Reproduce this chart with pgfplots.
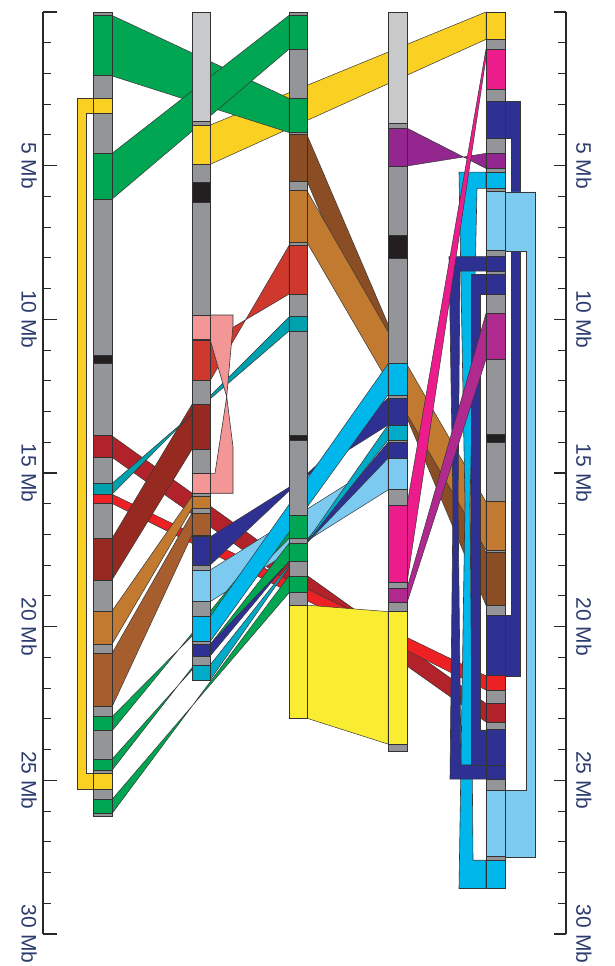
\documentclass[border=0pt]{standalone}
\usepackage{pgfplots}
\pgfplotsset{compat=1.18}
\usepackage{fontspec}
\setmainfont{Liberation Sans}
\definecolor{gry}{RGB}{147,149,152}
\definecolor{lgry}{RGB}{200,201,203}
\definecolor{blk}{RGB}{35,31,32}
\definecolor{grn}{RGB}{0,166,81}
\definecolor{gold}{RGB}{250,208,35}
\definecolor{lemon}{RGB}{249,236,49}
\definecolor{dbrown}{RGB}{139,78,36}
\definecolor{obrown}{RGB}{193,122,48}
\definecolor{mbrown}{RGB}{166,94,46}
\definecolor{redA}{RGB}{206,56,45}
\definecolor{bred}{RGB}{237,32,36}
\definecolor{fbrick}{RGB}{178,34,42}
\definecolor{dbrick}{RGB}{150,42,33}
\definecolor{salm}{RGB}{242,150,150}
\definecolor{tealA}{RGB}{0,161,175}
\definecolor{tealB}{RGB}{0,171,200}
\definecolor{cyanA}{RGB}{0,183,235}
\definecolor{navyA}{RGB}{46,49,146}
\definecolor{lblue}{RGB}{124,202,240}
\definecolor{mag}{RGB}{236,28,140}
\definecolor{purpA}{RGB}{147,39,143}
\definecolor{purpB}{RGB}{176,41,143}
\definecolor{edgec}{RGB}{50,50,50}
\definecolor{linkc}{RGB}{55,55,55}
\definecolor{axc}{RGB}{40,40,40}
\definecolor{labc}{RGB}{45,60,110}
% chromosome segment: xl, xr, y1, y2, colour
\newcommand{\seg}[5]{\addplot[fill=#5,draw=edgec,line width=0.9pt] coordinates {(#1,#3) (#2,#3) (#2,#4) (#1,#4)} --cycle;}
\newcommand{\chA}[3]{\seg{93}{112}{#1}{#2}{#3}}
\newcommand{\chB}[3]{\seg{192}{210}{#1}{#2}{#3}}
\newcommand{\chC}[3]{\seg{289}{307}{#1}{#2}{#3}}
\newcommand{\chD}[3]{\seg{388}{407}{#1}{#2}{#3}}
\newcommand{\chE}[3]{\seg{486}{505}{#1}{#2}{#3}}
% link: x1, top1, bot1, x2, top2, bot2, colour (top2/bot2 swapped = inverted)
\newcommand{\lnk}[7]{\addplot[fill=#7,draw=linkc,line width=0.5pt] coordinates {(#1,#2) (#4,#5) (#4,#6) (#1,#3)} --cycle;}
\newcommand{\shp}[2]{\addplot[fill=#1,draw=linkc,line width=0.6pt] coordinates {#2} --cycle;}
\begin{document}
\begin{tikzpicture}
\useasboundingbox (0,0) rectangle (615pt,-966pt);
\begin{axis}[
  at={(43pt,-12pt)}, anchor=north west,
  scale only axis, width=523pt, height=922pt,
  xmin=43, xmax=566, ymin=0, ymax=30, y dir=reverse,
  clip=false,
  axis x line=none, xtick=\empty,
  axis y line*=left, ytick pos=left, yticklabel pos=left,
  ytick={0,5,10,15,20,25,30},
  minor ytick={1,2,3,4,6,7,8,9,11,12,13,14,16,17,18,19,21,22,23,24,26,27,28,29},
  yticklabels={,5 Mb,10 Mb,15 Mb,20 Mb,25 Mb,30 Mb},
  tick align=inside,
  major tick length=14pt, minor tick length=7.5pt,
  every tick/.style={draw=axc, line width=1.1pt},
  axis line style={draw=axc, line width=1.1pt},
  yticklabel style={rotate=-90, anchor=north, inner sep=0pt, font=\fontsize{21}{25}\selectfont, text=labc},
  yticklabel shift=6pt,
]
% ---- links ----
\lnk{210}{3.68}{4.96}{486}{0}{0.89}{gold}
\lnk{112}{0.11}{2.08}{289}{2.81}{3.92}{grn}
\lnk{112}{4.60}{6.09}{289}{0.11}{1.21}{grn}
\lnk{407}{3.78}{5.01}{486}{5.09}{4.60}{purpA}
\lnk{307}{4.00}{5.50}{486}{17.60}{19.30}{dbrown}
\lnk{307}{5.82}{7.50}{486}{15.94}{17.51}{obrown}
\lnk{289}{7.60}{9.18}{210}{12.00}{10.70}{redA}
\lnk{112}{13.79}{14.49}{486}{22.50}{23.10}{fbrick}
\lnk{112}{15.69}{15.99}{486}{21.60}{22.06}{bred}
\lnk{112}{17.13}{18.48}{192}{12.77}{14.23}{dbrick}
\lnk{289}{9.92}{10.38}{112}{15.69}{15.34}{tealA}
\lnk{112}{19.49}{20.57}{192}{15.75}{16.15}{obrown}
\lnk{112}{20.87}{22.61}{192}{16.30}{17.02}{mbrown}
\lnk{388}{14.52}{15.55}{210}{18.16}{19.19}{lblue}
\lnk{112}{22.93}{23.39}{289}{17.13}{16.37}{grn}
\lnk{112}{24.31}{24.67}{289}{17.89}{17.29}{grn}
\lnk{112}{25.62}{26.08}{289}{18.90}{18.35}{grn}
\lnk{388}{12.56}{13.44}{210}{18.00}{17.08}{navyA}
\lnk{388}{11.45}{12.46}{210}{19.68}{20.49}{cyanA}
\lnk{388}{14.00}{14.52}{210}{20.96}{20.57}{navyA}
\lnk{388}{13.44}{13.93}{210}{21.74}{21.25}{tealB}
\lnk{307}{19.30}{22.98}{388}{19.51}{23.82}{lemon}
% inverted self link on chr2
\shp{salm}{(210,9.86) (233,9.86) (233,10.19) (226.7,12.52) (210,10.65)}
\shp{salm}{(226.7,12.52) (233,14.15) (233,15.66) (210,15.66) (210,15.01) (215,15.01)}
% chr1 self link
\shp{gold}{(93,2.82) (77,2.82) (77,25.29) (93,25.29) (93,24.77) (86.7,24.77) (86.7,3.30) (93,3.30)}
% chr5 self links
\shp{cyanA}{(486,5.21) (459,5.21) (465,16) (459,28.52) (486,28.52) (486,27.60) (473,27.60) (470,16) (477,5.74) (486,5.74)}
\shp{navyA}{(486,7.96) (449,7.96) (453,16) (450,24.96) (486,24.96) (486,24.50) (461,24.50) (458,16) (460,8.43) (486,8.43)}
\shp{navyA}{(486,8.53) (471,8.53) (471,24.50) (486,24.50) (486,23.36) (480,23.36) (480,9.19) (486,9.19)}
\shp{navyA}{(505,2.90) (520,2.90) (520,21.60) (505,21.60) (505,19.62) (511.5,19.62) (511.5,4.11) (505,4.11)}
\shp{lblue}{(505,5.85) (535,5.85) (535,27.49) (505,27.49) (505,25.32) (526.5,25.32) (526.5,7.77) (505,7.77)}
\lnk{486}{1.21}{1.50}{407}{16.04}{18.57}{mag}
\lnk{486}{9.81}{11.30}{407}{18.75}{19.22}{purpB}
% ---- chromosome 1 ----
\chA{0}{0.11}{gry}
\chA{0.11}{2.08}{grn}
\chA{2.08}{2.82}{gry}
\chA{2.82}{3.30}{gold}
\chA{3.30}{4.60}{gry}
\chA{4.60}{6.09}{grn}
\chA{6.09}{11.16}{gry}
\chA{11.16}{11.43}{blk}
\chA{11.43}{13.79}{gry}
\chA{13.79}{14.49}{fbrick}
\chA{14.49}{15.34}{gry}
\chA{15.34}{15.69}{tealA}
\chA{15.69}{15.99}{bred}
\chA{15.99}{17.13}{gry}
\chA{17.13}{18.48}{dbrick}
\chA{18.48}{19.49}{gry}
\chA{19.49}{20.57}{obrown}
\chA{20.57}{20.87}{gry}
\chA{20.87}{22.61}{mbrown}
\chA{22.61}{22.93}{gry}
\chA{22.93}{23.39}{grn}
\chA{23.39}{24.31}{gry}
\chA{24.31}{24.67}{grn}
\chA{24.67}{24.77}{gry}
\chA{24.77}{25.29}{gold}
\chA{25.29}{25.62}{gry}
\chA{25.62}{26.08}{grn}
\chA{26.08}{26.19}{gry}
% ---- chromosome 2 ----
\chB{0}{3.57}{lgry}
\chB{3.57}{3.68}{gry}
\chB{3.68}{4.96}{gold}
\chB{4.96}{5.55}{gry}
\chB{5.55}{6.19}{blk}
\chB{6.19}{9.86}{gry}
\chB{9.86}{10.65}{salm}
\chB{10.65}{10.70}{gry}
\chB{10.70}{12.00}{redA}
\chB{12.00}{12.77}{gry}
\chB{12.77}{14.23}{dbrick}
\chB{14.23}{15.01}{gry}
\chB{15.01}{15.66}{salm}
\chB{15.66}{15.75}{gry}
\chB{15.75}{16.15}{obrown}
\chB{16.15}{16.30}{gry}
\chB{16.30}{17.02}{mbrown}
\chB{17.02}{17.08}{gry}
\chB{17.08}{18.00}{navyA}
\chB{18.00}{18.16}{gry}
\chB{18.16}{19.19}{lblue}
\chB{19.19}{19.68}{gry}
\chB{19.68}{20.49}{cyanA}
\chB{20.49}{20.57}{gry}
\chB{20.57}{20.96}{navyA}
\chB{20.96}{21.25}{gry}
\chB{21.25}{21.74}{tealB}
% ---- chromosome 3 ----
\chC{0}{0.11}{gry}
\chC{0.11}{1.21}{grn}
\chC{1.21}{2.81}{gry}
\chC{2.81}{3.92}{grn}
\chC{3.92}{4.00}{gry}
\chC{4.00}{5.50}{dbrown}
\chC{5.50}{5.82}{gry}
\chC{5.82}{7.50}{obrown}
\chC{7.50}{7.60}{gry}
\chC{7.60}{9.18}{redA}
\chC{9.18}{9.92}{gry}
\chC{9.92}{10.38}{tealA}
\chC{10.38}{13.77}{gry}
\chC{13.77}{13.93}{blk}
\chC{13.93}{16.37}{gry}
\chC{16.37}{17.13}{grn}
\chC{17.13}{17.29}{gry}
\chC{17.29}{17.89}{grn}
\chC{17.89}{18.35}{gry}
\chC{18.35}{18.90}{grn}
\chC{18.90}{19.30}{gry}
\chC{19.30}{22.98}{lemon}
% ---- chromosome 4 ----
\chD{0}{3.62}{lgry}
\chD{3.62}{3.78}{gry}
\chD{3.78}{5.01}{purpA}
\chD{5.01}{7.26}{gry}
\chD{7.26}{8.02}{blk}
\chD{8.02}{11.45}{gry}
\chD{11.45}{12.46}{cyanA}
\chD{12.46}{12.56}{gry}
\chD{12.56}{13.44}{navyA}
\chD{13.44}{13.93}{tealB}
\chD{13.93}{14.00}{gry}
\chD{14.00}{14.52}{navyA}
\chD{14.52}{15.55}{lblue}
\chD{15.55}{16.04}{gry}
\chD{16.04}{18.57}{mag}
\chD{18.57}{18.75}{gry}
\chD{18.75}{19.22}{purpB}
\chD{19.22}{19.51}{gry}
\chD{19.51}{23.82}{lemon}
\chD{23.82}{24.07}{gry}
% ---- chromosome 5 ----
\chE{0}{0.89}{gold}
\chE{0.89}{1.21}{gry}
\chE{1.21}{2.52}{mag}
\chE{2.52}{2.90}{gry}
\chE{2.90}{4.11}{navyA}
\chE{4.11}{4.60}{gry}
\chE{4.60}{5.09}{purpA}
\chE{5.09}{5.21}{gry}
\chE{5.21}{5.74}{cyanA}
\chE{5.74}{5.85}{gry}
\chE{5.85}{7.77}{lblue}
\chE{7.77}{7.96}{gry}
\chE{7.96}{8.43}{navyA}
\chE{8.43}{8.53}{gry}
\chE{8.53}{9.19}{navyA}
\chE{9.19}{9.81}{gry}
\chE{9.81}{11.30}{purpB}
\chE{11.30}{13.73}{gry}
\chE{13.73}{14.01}{blk}
\chE{14.01}{15.94}{gry}
\chE{15.94}{17.51}{obrown}
\chE{17.51}{17.60}{gry}
\chE{17.60}{19.30}{dbrown}
\chE{19.30}{19.62}{gry}
\chE{19.62}{21.60}{navyA}
\chE{21.60}{22.06}{bred}
\chE{22.06}{22.50}{gry}
\chE{22.50}{23.10}{fbrick}
\chE{23.10}{23.36}{gry}
\chE{23.36}{24.50}{navyA}
\chE{24.50}{24.96}{navyA}
\chE{24.96}{25.32}{gry}
\chE{25.32}{27.49}{lblue}
\chE{27.49}{27.60}{gry}
\chE{27.60}{28.52}{cyanA}
\end{axis}
\begin{axis}[
  at={(43pt,-12pt)}, anchor=north west,
  scale only axis, width=523pt, height=922pt,
  xmin=43, xmax=566, ymin=0, ymax=30, y dir=reverse,
  clip=false,
  axis x line=none, xtick=\empty,
  axis y line*=right, ytick pos=right, yticklabel pos=right,
  ytick={0,5,10,15,20,25,30},
  minor ytick={1,2,3,4,6,7,8,9,11,12,13,14,16,17,18,19,21,22,23,24,26,27,28,29},
  yticklabels={,5 Mb,10 Mb,15 Mb,20 Mb,25 Mb,30 Mb},
  tick align=inside,
  major tick length=12.5pt, minor tick length=8pt,
  every tick/.style={draw=axc, line width=1.1pt},
  axis line style={draw=axc, line width=1.1pt},
  yticklabel style={rotate=-90, anchor=south, inner sep=0pt, font=\fontsize{21}{25}\selectfont, text=labc},
  yticklabel shift=10pt,
]
\addplot[draw=none] coordinates {(300,10)};
\end{axis}
\end{tikzpicture}
\end{document}
